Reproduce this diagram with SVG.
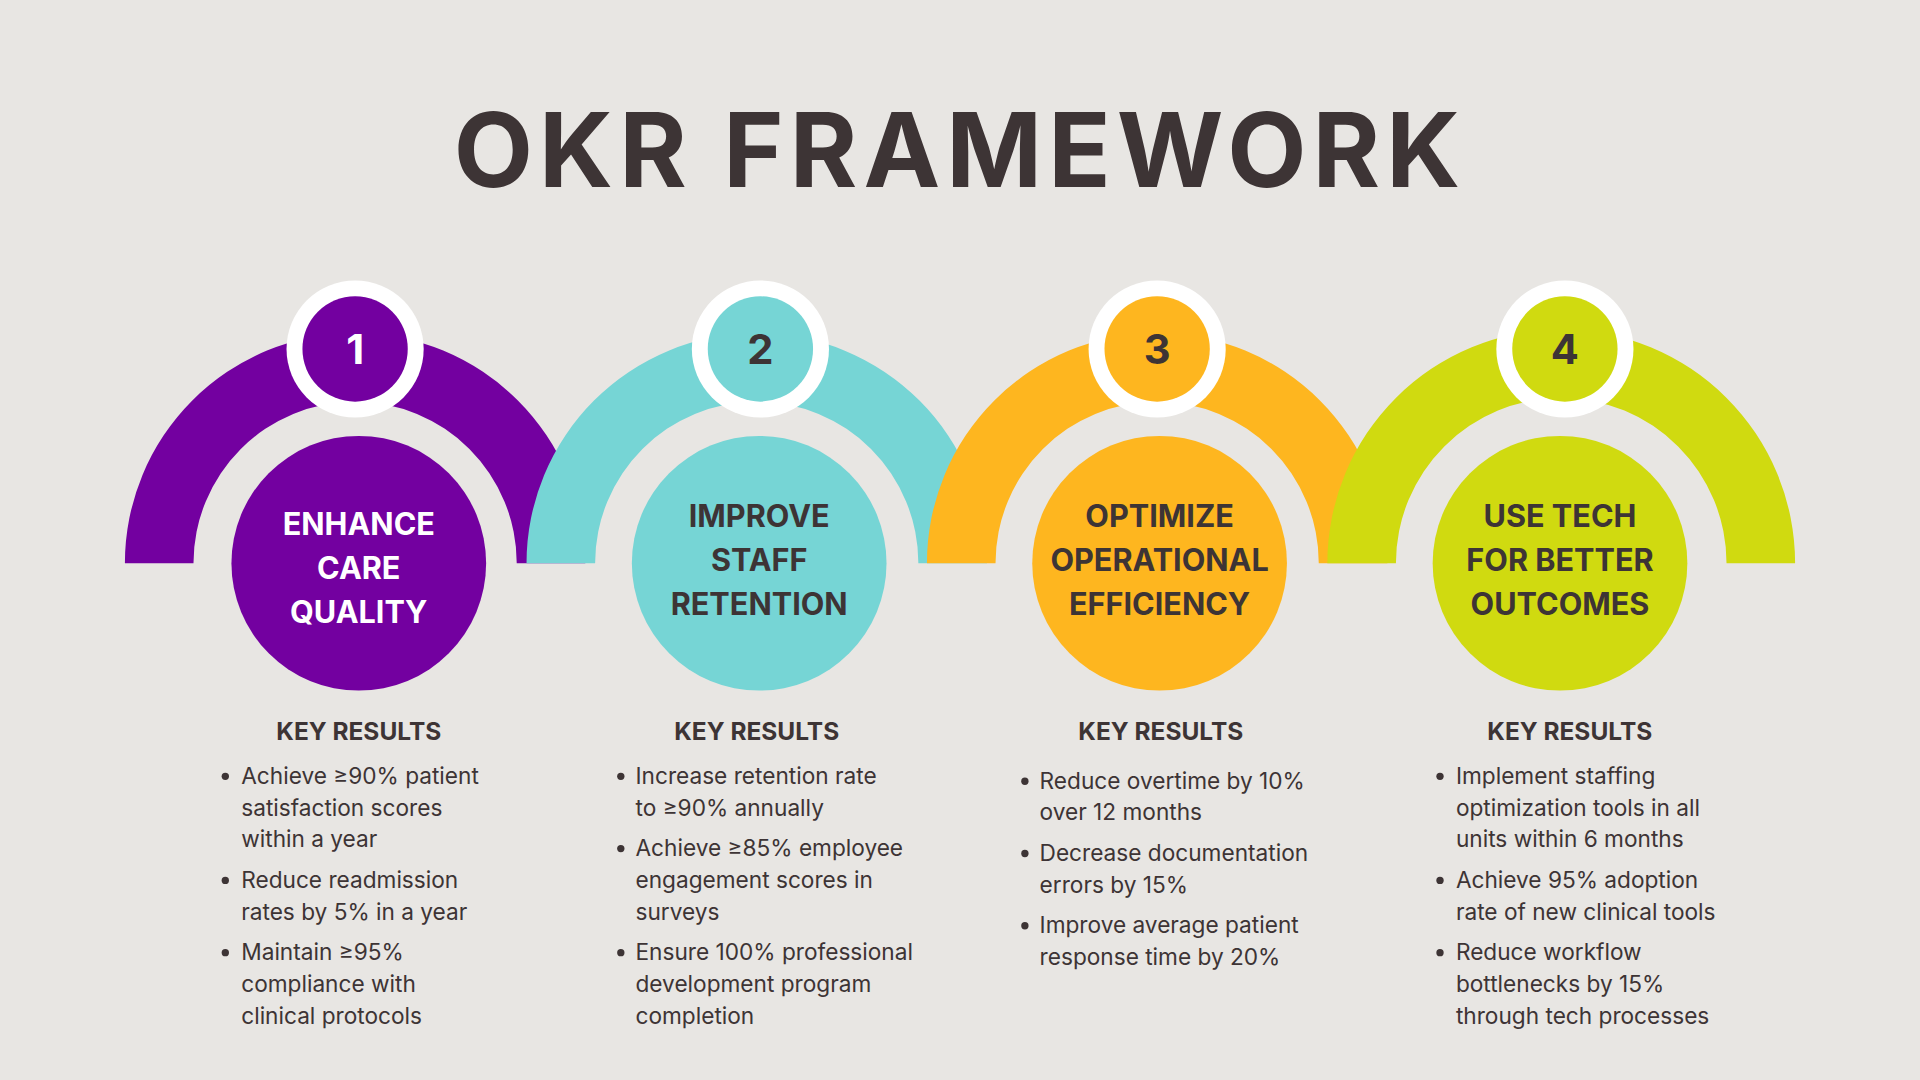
<svg xmlns="http://www.w3.org/2000/svg" width="1920" height="1080" viewBox="0 0 1920 1080">
<style>
.t{font-family:Inter,"Open Sans","Liberation Sans",sans-serif;fill:#3D3435}
.title{font-size:84px;font-weight:700;letter-spacing:5px}
.lbl{font-size:25px;font-weight:700;text-anchor:middle}
.num{font-size:34px;font-weight:700;text-anchor:middle}
.kr{font-size:20px;font-weight:700;text-anchor:middle}
.b{font-size:18.5px}
.w{fill:#fff}
</style>
<rect width="1920" height="1080" fill="#E8E6E3"/>
<g transform="scale(1.22449)">
<text class="t title" x="784" y="153" text-anchor="middle">OKR FRAMEWORK</text>
<g id="node1">
<path d="M102,460 A188,188 0 0 1 478,460 L422,460 A132,132 0 0 0 158,460 Z" fill="#7300A0"/>
<circle cx="290" cy="285" r="56" fill="#fff"/><circle cx="290" cy="285" r="43" fill="#7300A0"/>
<text class="t num w" x="290" y="297">1</text>
<circle cx="293" cy="460" r="104" fill="#7300A0"/>
<text class="t lbl w" x="293" y="437">ENHANCE</text><text class="t lbl w" x="293" y="473">CARE</text><text class="t lbl w" x="293" y="509">QUALITY</text>
<text class="t kr" x="293" y="604">KEY RESULTS</text>
<g class="t b"><text x="197" y="640">Achieve ≥90% patient</text><text x="197" y="666">satisfaction scores</text><text x="197" y="692">within a year</text>
<text x="197" y="725">Reduce readmission</text><text x="197" y="751">rates by 5% in a year</text>
<text x="197" y="784">Maintain ≥95%</text><text x="197" y="810">compliance with</text><text x="197" y="836">clinical protocols</text></g>
<circle cx="184" cy="634" r="3" fill="#3D3435"/><circle cx="184" cy="719" r="3" fill="#3D3435"/><circle cx="184" cy="778" r="3" fill="#3D3435"/>
</g>
<g id="node2">
<path d="M430,460 A188,188 0 0 1 806,460 L750,460 A132,132 0 0 0 486,460 Z" fill="#76D5D5"/>
<circle cx="621" cy="285" r="56" fill="#fff"/><circle cx="621" cy="285" r="43" fill="#76D5D5"/>
<text class="t num" x="621" y="297">2</text>
<circle cx="620" cy="460" r="104" fill="#76D5D5"/>
<text class="t lbl" x="620" y="430">IMPROVE</text><text class="t lbl" x="620" y="466">STAFF</text><text class="t lbl" x="620" y="502">RETENTION</text>
<text class="t kr" x="618" y="604">KEY RESULTS</text>
<g class="t b"><text x="519" y="640">Increase retention rate</text><text x="519" y="666">to ≥90% annually</text>
<text x="519" y="699">Achieve ≥85% employee</text><text x="519" y="725">engagement scores in</text><text x="519" y="751">surveys</text>
<text x="519" y="784">Ensure 100% professional</text><text x="519" y="810">development program</text><text x="519" y="836">completion</text></g>
<circle cx="507" cy="634" r="3" fill="#3D3435"/><circle cx="507" cy="693" r="3" fill="#3D3435"/><circle cx="507" cy="778" r="3" fill="#3D3435"/>
</g>
<g id="node3">
<path d="M757,460 A188,188 0 0 1 1133,460 L1077,460 A132,132 0 0 0 813,460 Z" fill="#FEB61F"/>
<circle cx="945" cy="285" r="56" fill="#fff"/><circle cx="945" cy="285" r="43" fill="#FEB61F"/>
<text class="t num" x="945" y="297">3</text>
<circle cx="947" cy="460" r="104" fill="#FEB61F"/>
<text class="t lbl" x="947" y="430">OPTIMIZE</text><text class="t lbl" x="947" y="466">OPERATIONAL</text><text class="t lbl" x="947" y="502">EFFICIENCY</text>
<text class="t kr" x="948" y="604">KEY RESULTS</text>
<g class="t b"><text x="849" y="644">Reduce overtime by 10%</text><text x="849" y="670">over 12 months</text>
<text x="849" y="703">Decrease documentation</text><text x="849" y="729">errors by 15%</text>
<text x="849" y="762">Improve average patient</text><text x="849" y="788">response time by 20%</text></g>
<circle cx="837" cy="638" r="3" fill="#3D3435"/><circle cx="837" cy="697" r="3" fill="#3D3435"/><circle cx="837" cy="756" r="3" fill="#3D3435"/>
</g>
<g id="node4">
<path d="M1084,460 A188,188 0 0 1 1466,460 L1410,460 A132,132 0 0 0 1140,460 Z" fill="#D0DA10"/>
<circle cx="1278" cy="285" r="56" fill="#fff"/><circle cx="1278" cy="285" r="43" fill="#D0DA10"/>
<text class="t num" x="1278" y="297">4</text>
<circle cx="1274" cy="460" r="104" fill="#D0DA10"/>
<text class="t lbl" x="1274" y="430">USE TECH</text><text class="t lbl" x="1274" y="466">FOR BETTER</text><text class="t lbl" x="1274" y="502">OUTCOMES</text>
<text class="t kr" x="1282" y="604">KEY RESULTS</text>
<g class="t b"><text x="1189" y="640">Implement staffing</text><text x="1189" y="666">optimization tools in all</text><text x="1189" y="692">units within 6 months</text>
<text x="1189" y="725">Achieve 95% adoption</text><text x="1189" y="751">rate of new clinical tools</text>
<text x="1189" y="784">Reduce workflow</text><text x="1189" y="810">bottlenecks by 15%</text><text x="1189" y="836">through tech processes</text></g>
<circle cx="1176" cy="634" r="3" fill="#3D3435"/><circle cx="1176" cy="719" r="3" fill="#3D3435"/><circle cx="1176" cy="778" r="3" fill="#3D3435"/>
</g>
<g id="connectors"/>
</g>
</svg>
